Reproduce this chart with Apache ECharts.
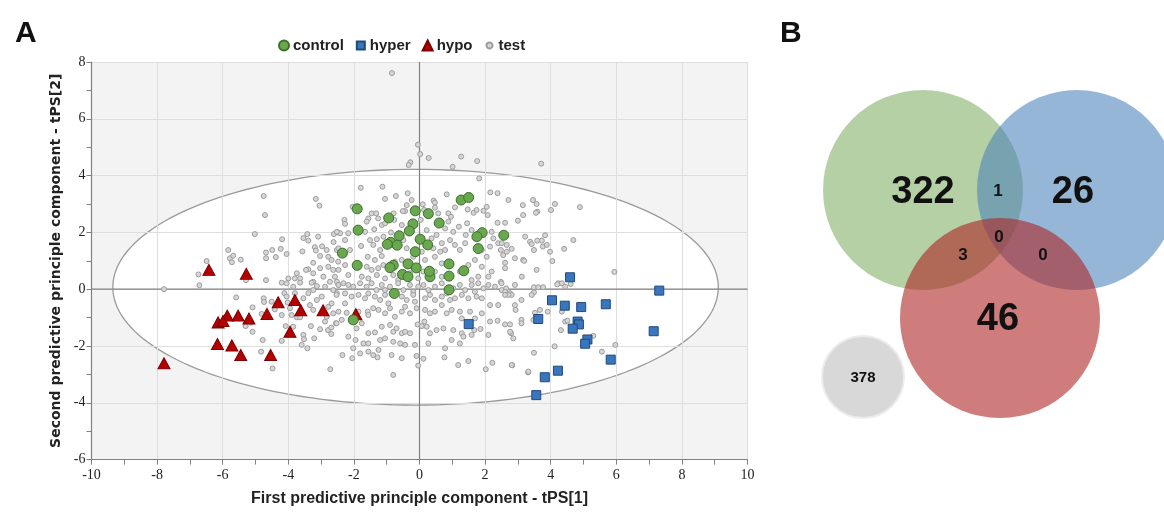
<!DOCTYPE html>
<html>
<head>
<meta charset="utf-8">
<script src="https://cdn.jsdelivr.net/npm/echarts@6/dist/echarts.min.js"></script>
<style>
  html, body { margin: 0; padding: 0; background: #fff; }
  #chart { width: 1164px; height: 512px; }
</style>
</head>
<body>
<div id="chart"></div>
<script>
// score plot values: [tPS1, tPS2]
var controlPts = [
  [-1.90, 2.83], [-0.94, 2.51], [-0.13, 2.76], [0.27, 2.66], [1.27, 3.14], [1.50, 3.23],
  [-1.87, 2.08], [-0.20, 2.30], [0.60, 2.33], [-0.62, 1.88], [-0.31, 2.05], [-0.88, 1.65],
  [-0.98, 1.58], [-0.68, 1.55], [0.02, 1.76], [0.25, 1.56], [1.91, 1.99], [1.75, 1.85],
  [2.57, 1.90], [1.79, 1.43], [-2.35, 1.27], [-0.13, 1.32], [-1.90, 0.84], [-0.80, 0.84],
  [-0.90, 0.76], [-0.35, 0.89], [-0.10, 0.75], [0.90, 0.89], [1.35, 0.65], [-0.52, 0.52],
  [-0.35, 0.44], [0.32, 0.44], [0.30, 0.63], [0.90, 0.46], [0.90, -0.02], [-0.77, -0.15],
  [-2.02, -1.08]
];
var hyperPts = [
  [4.59, 0.42], [7.31, -0.05], [4.04, -0.39], [4.43, -0.58], [4.93, -0.63], [5.68, -0.53],
  [3.62, -1.05], [4.82, -1.14], [4.86, -1.24], [4.67, -1.39], [7.14, -1.48], [5.12, -1.77],
  [5.05, -1.92], [5.83, -2.48], [4.22, -2.87], [3.82, -3.10], [3.56, -3.73], [1.50, -1.23]
];
var hypoPts = [
  [-6.42, 0.68], [-5.28, 0.54], [-4.31, -0.46], [-3.80, -0.38], [-3.62, -0.74], [-2.94, -0.74],
  [-5.86, -0.93], [-5.53, -0.93], [-5.20, -1.03], [-4.65, -0.87], [-6.14, -1.17], [-5.99, -1.12],
  [-3.95, -1.50], [-6.16, -1.93], [-5.72, -1.98], [-5.45, -2.32], [-4.54, -2.32], [-7.79, -2.61],
  [-1.94, -0.88]
];
var testPts = [
  // left wing
  [-4.75, 3.28], [-4.71, 2.61], [-3.16, 3.18], [-3.05, 2.94], [-5.02, 1.94], [-4.19, 1.76],
  [-3.54, 1.80], [-3.42, 1.94], [-3.39, 1.71], [-3.09, 1.85], [-2.61, 1.94], [-2.49, 2.00],
  [-2.62, 1.66], [-5.83, 1.38], [-5.78, 1.09], [-5.72, 0.95], [-5.68, 1.18], [-5.45, 1.04],
  [-6.49, 0.99], [-6.74, 0.52], [-4.68, 1.29], [-4.68, 1.09], [-4.49, 1.38], [-4.38, 1.13],
  [-4.23, 1.42], [-4.05, 1.24], [-4.68, 0.32], [-5.29, 0.32], [-3.57, 1.33], [-3.19, 1.48],
  [-3.16, 1.36], [-2.97, 1.51], [-3.03, 1.17], [-3.24, 0.93], [-2.83, 1.38], [-2.78, 1.14],
  [-2.68, 1.03], [-2.52, 1.38], [-2.48, 0.97], [-3.39, 0.70], [-3.46, 0.68], [-3.24, 0.56],
  [-3.74, 0.56], [-3.80, 0.38], [-3.64, 0.38], [-4.00, 0.38], [-4.20, 0.23], [-3.03, 0.74],
  [-2.93, 0.44], [-2.78, 0.79], [-2.63, 0.68], [-2.58, 0.44], [-3.24, 0.26], [-2.52, 0.26],
  [-6.71, 0.14], [-7.79, 0.00], [-3.85, -1.32], [-2.79, -1.44],
  [-5.59, -0.29], [-5.09, -0.64], [-5.30, -1.30], [-5.09, -1.50], [-5.14, -1.18], [-4.75, -0.32],
  [-4.74, -0.45], [-4.81, -0.87], [-4.51, -0.44], [-4.41, -0.71], [-4.20, -0.91], [-4.78, -1.79],
  [-4.83, -2.20], [-4.48, -2.79], [-4.20, -1.82], [-4.08, -1.30], [-4.12, -0.14], [-4.05, -0.26],
  [-3.95, -0.67], [-3.90, -0.91], [-3.74, -0.99], [-3.64, -0.99], [-3.80, -0.14], [-3.54, -0.32],
  [-3.34, -0.56], [-3.24, -0.73], [-3.31, -1.30], [-3.54, -1.61], [-3.52, -1.76], [-3.59, -1.96],
  [-3.42, -2.08], [-3.21, -1.73], [-3.03, -1.41], [-2.88, -1.14], [-2.69, -1.35], [-2.69, -1.58],
  [-2.55, -1.20], [-2.72, -2.82], [-3.39, -0.14], [-3.13, -0.38], [-3.24, -0.03], [-2.98, -0.26],
  [-2.78, -0.62], [-2.63, -0.85], [-2.68, -0.50], [-2.52, -0.14], [-2.83, -0.97], [-4.02, -0.47],
  [-4.05, 0.21], [-3.85, 0.09], [-3.64, 0.23], [-3.29, 0.23], [-3.13, 0.11], [-2.88, 0.09],
  [-2.63, -0.03], [-2.73, 0.26], [-2.47, 0.15],
  // above the ellipse
  [0.02, 4.76], [0.28, 4.62], [-0.28, 4.47], [-0.33, 4.37], [1.27, 4.67], [1.76, 4.51],
  [1.01, 4.31], [1.82, 3.90], [-0.05, 5.09], [-0.84, 7.61], [3.71, 4.42],
  // upper core
  [-1.79, 3.57], [-1.13, 3.61], [-0.36, 3.38], [-0.72, 3.28], [-1.05, 3.18], [0.43, 3.12],
  [0.47, 3.05], [0.83, 3.34], [2.16, 3.41], [2.38, 3.38], [2.71, 3.14], [3.15, 2.96],
  [3.46, 3.14], [-0.24, 3.14], [-0.39, 2.96], [-0.44, 2.75], [-0.51, 2.75], [0.10, 2.99],
  [0.14, 2.79], [0.47, 2.87], [0.57, 2.67], [0.88, 2.67], [0.96, 2.55], [1.08, 2.88],
  [1.47, 2.81], [1.65, 2.69], [1.74, 2.79], [1.95, 2.76], [2.05, 2.90], [2.08, 2.61],
  [2.38, 2.34], [2.61, 2.34], [3.00, 2.41], [3.16, 2.61], [-1.46, 2.67], [-1.32, 2.67],
  [-1.56, 2.49], [-1.61, 2.38], [-1.26, 2.49], [-0.79, 2.67], [-0.77, 2.44], [-1.15, 2.26],
  [-1.05, 2.32], [-2.29, 2.44], [-2.27, 2.30], [-2.04, 2.90], [-0.54, 2.26], [0.04, 2.44],
  [-0.14, 2.24], [0.88, 2.38], [0.78, 2.14], [1.03, 2.02], [1.20, 2.20], [1.41, 1.91],
  [1.59, 2.08], [1.45, 2.32], [2.20, 2.02], [2.25, 1.79], [2.15, 1.50], [2.40, 1.62],
  [2.66, 1.32], [2.91, 1.09], [3.22, 1.85], [3.37, 1.67], [3.16, 1.03], [2.61, 0.74],
  [3.12, 0.44], [-2.42, 1.97], [-2.52, 2.02], [-2.17, 1.97], [-1.66, 2.02], [-1.38, 2.11],
  [-1.51, 1.73], [-1.41, 1.56], [-1.30, 1.76], [-1.10, 1.85], [-0.87, 2.00], [-1.78, 1.52],
  [-2.27, 1.73], [-2.47, 1.44], [-2.12, 1.38], [-1.58, 1.14], [-1.36, 1.03], [-1.20, 1.38],
  [-1.15, 1.17], [-0.49, 1.73], [-0.39, 1.44], [0.22, 2.08], [0.37, 1.79], [0.52, 1.91],
  [0.68, 1.62], [0.93, 1.73], [1.08, 1.56], [1.23, 1.38], [1.39, 1.62], [0.42, 1.44],
  [0.63, 1.32], [0.78, 1.38], [0.07, 1.32], [-0.19, 1.14], [-0.54, 1.03], [-0.75, 0.97],
  [-0.95, 0.79], [-1.10, 0.85], [-1.26, 0.74], [-1.46, 0.68], [-1.61, 0.79], [-2.27, 0.85],
  [-2.47, 0.68], [-2.17, 0.50], [-1.76, 0.44], [-1.56, 0.38], [-1.30, 0.50], [-1.05, 0.38],
  [-0.80, 0.50], [-0.65, 0.32], [0.17, 1.03], [0.47, 1.14], [0.68, 0.91], [0.47, 0.62],
  [0.68, 0.44], [0.12, 0.62], [-0.04, 0.38], [-0.29, 0.56], [1.23, 0.62], [1.49, 0.85],
  [1.69, 1.03], [1.90, 0.79], [2.10, 0.44], [2.20, 0.62], [1.79, 0.44], [1.59, 0.32],
  [1.90, 1.38], [2.05, 1.14],
  // right side
  [3.57, 3.00], [4.13, 3.00], [3.59, 2.73], [3.55, 2.69], [4.01, 2.79], [4.89, 2.89],
  [3.83, 1.90], [3.59, 1.71], [3.73, 1.71], [3.42, 1.59], [3.49, 1.38], [3.76, 1.50],
  [3.88, 1.56], [3.98, 1.32], [4.41, 1.42], [4.05, 0.99], [5.94, 0.61], [4.23, 0.21],
  [4.34, 0.21], [4.61, 0.18], [3.49, 0.07], [3.62, 0.07], [3.77, 0.07], [3.49, -0.11],
  [4.20, 0.17], [4.44, 0.09], [3.52, -0.83], [3.67, -0.73], [3.91, -0.79], [4.34, -0.79],
  [4.44, -1.14], [4.51, -1.11], [4.31, -1.44], [5.30, -1.64], [5.97, -1.96], [5.56, -2.20],
  [4.12, -2.01], [3.49, -2.24], [2.83, -2.68], [3.31, -2.93], [3.19, 1.00], [2.61, 0.93],
  [2.93, -0.73], [2.79, -1.55], [2.48, 0.26], [2.51, -0.03], [2.64, 0.03], [2.76, -0.14],
  [2.81, -0.20], [2.48, 1.38], [2.66, 1.56], [2.55, 1.20], [2.51, 1.62], [2.81, 1.42],
  [3.57, 0.68], [4.69, 1.73],
  // lower core
  [-2.47, 0.15], [-2.32, 0.21], [-2.17, 0.15], [-2.02, 0.09], [-1.81, 0.21], [-1.61, 0.09],
  [-1.46, 0.21], [-1.31, -0.03], [-1.15, 0.15], [-1.05, -0.03], [-0.90, 0.09], [-0.65, 0.21],
  [-0.49, -0.03], [-0.29, 0.15], [-0.19, -0.09], [-0.04, 0.09], [0.12, 0.15], [0.27, -0.03],
  [0.47, 0.09], [0.68, 0.21], [0.83, -0.15], [1.03, 0.03], [1.23, 0.15], [1.39, -0.03],
  [1.59, 0.15], [1.79, 0.21], [1.95, 0.03], [2.10, 0.15], [2.30, 0.09], [2.50, 0.21],
  [2.61, -0.09], [2.71, -0.20], [2.91, 0.15],
  [-2.53, -0.20], [-2.27, -0.15], [-2.07, -0.26], [-1.86, -0.20], [-1.66, -0.32], [-1.56, -0.15],
  [-1.36, -0.26], [-1.20, -0.38], [-1.05, -0.20], [-0.95, -0.50], [-0.54, -0.26], [-0.39, -0.38],
  [-0.19, -0.20], [-0.14, -0.44], [0.17, -0.32], [0.32, -0.20], [0.47, -0.38], [0.68, -0.26],
  [0.93, -0.38], [1.08, -0.32], [1.29, -0.20], [1.49, -0.32], [1.69, -0.09], [1.74, -0.26],
  [1.90, -0.32], [2.15, -0.56], [2.40, -0.56], [2.61, -0.20], [2.91, -0.56], [3.11, -0.38],
  [3.42, -0.20],
  [-2.27, -0.50], [-2.47, -0.79], [-2.22, -0.83], [-1.86, -0.79], [-1.58, -0.79], [-1.56, -0.91],
  [-1.41, -0.67], [-1.25, -0.73], [-1.05, -0.85], [-0.90, -0.67], [-0.75, -0.97], [-0.54, -0.79],
  [-0.44, -0.62], [-0.29, -0.85], [-0.09, -0.67], [0.17, -0.73], [0.32, -0.85], [0.47, -0.79],
  [0.68, -0.56], [0.83, -0.85], [0.98, -0.73], [1.23, -0.79], [1.29, -1.03], [1.54, -0.79],
  [1.69, -1.03], [1.90, -0.85], [2.15, -1.14], [2.38, -1.11], [2.61, -1.24], [2.76, -1.24],
  [3.11, -1.08], [3.47, -1.08],
  [-2.53, -1.20], [-2.37, -1.08], [-1.92, -1.38], [-1.76, -1.20], [-1.56, -1.55], [-1.36, -1.52],
  [-1.15, -1.32], [-0.90, -1.26], [-0.80, -1.50], [-0.70, -1.38], [-0.54, -1.55], [-0.44, -1.50],
  [-0.29, -1.55], [-0.06, -1.24], [0.07, -1.30], [0.22, -1.32], [0.15, -1.14], [0.32, -1.55],
  [0.52, -1.44], [0.73, -1.38], [1.03, -1.44], [1.29, -1.55], [1.67, -1.44], [1.86, -1.40],
  [2.76, -1.50], [2.86, -1.73], [3.11, -1.20],
  [-2.17, -1.67], [-1.95, -1.79], [-1.71, -1.91], [-1.56, -1.91], [-1.20, -1.79], [-1.05, -1.73],
  [-0.80, -1.85], [-0.59, -1.91], [-0.44, -1.96], [-0.14, -1.96], [0.27, -1.91], [0.98, -1.79],
  [1.23, -1.91], [1.34, -1.67], [1.59, -1.61], [2.10, -1.61],
  [-2.02, -2.08], [-1.81, -2.26], [-1.56, -2.20], [-1.41, -2.32], [-1.25, -2.14], [-1.28, -2.40],
  [-0.85, -2.32], [-0.54, -2.43], [-0.09, -2.35], [0.12, -2.45], [-0.04, -2.69], [0.78, -2.08],
  [0.76, -2.40], [1.18, -2.67], [1.49, -2.53], [2.22, -2.59], [2.81, -2.67], [2.02, -2.82],
  [3.32, -2.90], [-2.35, -2.32], [-2.05, -2.43], [-0.80, -3.02]
];
// confidence ellipse: [centre x, centre y, half width, half height]
var ellipse = [[-0.12, 0.07, 9.23, 4.15]];

// Venn counts
var vennRegions = ['control', 'hyper', 'hypo', 'control+hyper', 'all', 'control+hypo', 'hyper+hypo', 'none'];
var vennCounts = [322, 26, 46, 1, 0, 3, 0, 378];

// Venn layout (units = circle radius), kept apart from the counts
var vennCircles = [[0, 0, 1], [1.54, 0, 1], [0.77, -1.28, 1], [-0.60, -1.87, 0.41]];
var vennCircleColors = ['rgba(132,176,104,0.6)', 'rgba(78,133,186,0.6)', 'rgba(174,36,36,0.6)', '#d8d8d8'];
var vennLabelPos = [[0, -0.03], [1.5, -0.03], [0.75, -1.3], [0.75, -0.01], [0.76, -0.47], [0.40, -0.65], [1.20, -0.65], [-0.60, -1.88]];
var vennLabelSize = [38, 38, 38, 17, 17, 17, 17, 15];

var chart = echarts.init(document.getElementById('chart'));

var axisFont = 'Liberation Serif';
var nameFont = 'Liberation Sans Narrow, Liberation Sans, sans-serif';

function renderEllipse(params, api) {
  var cx = api.value(0), cy = api.value(1), rx = api.value(2), ry = api.value(3);
  var pts = [];
  for (var i = 0; i < 180; i++) {
    var t = i / 180 * Math.PI * 2;
    pts.push(api.coord([cx + rx * Math.cos(t), cy + ry * Math.sin(t)]));
  }
  return {
    type: 'polygon',
    shape: { points: pts },
    style: { fill: '#ffffff', stroke: '#9a9a9a', lineWidth: 1.3 }
  };
}

function renderZeroLines(params, api) {
  var cs = params.coordSys;
  var o = api.coord([0, 0]);
  return {
    type: 'group',
    children: [
      { type: 'line', shape: { x1: o[0], y1: cs.y, x2: o[0], y2: cs.y + cs.height }, style: { stroke: '#808080', lineWidth: 1.2 } },
      { type: 'line', shape: { x1: cs.x, y1: o[1], x2: cs.x + cs.width, y2: o[1] }, style: { stroke: '#808080', lineWidth: 1.2 } }
    ]
  };
}

function renderVennCircle(params, api) {
  var c = api.coord([api.value(0), api.value(1)]);
  var r = api.size([api.value(2), 0])[0];
  var last = params.dataIndex === vennCircles.length - 1;
  return {
    type: 'circle',
    shape: { cx: c[0], cy: c[1], r: r },
    style: {
      fill: vennCircleColors[params.dataIndex],
      stroke: last ? '#ececec' : null,
      lineWidth: last ? 2 : 0
    }
  };
}

function renderVennLabel(params, api) {
  var c = api.coord([api.value(0), api.value(1)]);
  return {
    type: 'text',
    x: c[0],
    y: c[1],
    style: {
      text: String(vennCounts[params.dataIndex]),
      fontSize: vennLabelSize[params.dataIndex],
      fontWeight: 'bold',
      fontFamily: 'Liberation Sans',
      fill: '#111',
      align: 'center',
      verticalAlign: 'middle'
    }
  };
}

var option = {
  animation: false,
  backgroundColor: '#ffffff',
  title: [
    { text: 'A', left: 10, top: 14, textStyle: { fontSize: 30, fontWeight: 'bold', fontFamily: 'Liberation Sans', color: '#111' } },
    { text: 'B', left: 775, top: 14, textStyle: { fontSize: 30, fontWeight: 'bold', fontFamily: 'Liberation Sans', color: '#111' } }
  ],
  legend: {
    data: [
      { name: 'control' },
      { name: 'hyper', icon: 'path://M0,0M10,10M1,1L9,1L9,9L1,9Z' },
      { name: 'hypo' },
      { name: 'test', icon: 'path://M0,0M10,10M5,2A3,3 0 1,1 4.99,2Z' }
    ],
    left: 273,
    top: 33,
    itemWidth: 10,
    itemHeight: 10,
    itemGap: 11,
    textStyle: { fontSize: 15, fontWeight: 'bold', fontFamily: nameFont, color: '#222', padding: [0, 0, 0, -1] }
  },
  grid: [
    { left: 91.5, right: 416.5, top: 62, bottom: 52.4, show: true, backgroundColor: '#f3f3f3', borderWidth: 0 },
    { left: 780, top: 0, width: 384, height: 512 }
  ],
  xAxis: [
    {
      type: 'value', gridIndex: 0, min: -10, max: 10, interval: 2, z: 0.8,
      name: 'First predictive principle component - tPS[1]',
      nameLocation: 'middle', nameGap: 31,
      nameTextStyle: { fontSize: 16, fontWeight: 'bold', fontFamily: nameFont, color: '#222' },
      axisLine: { onZero: false, lineStyle: { color: '#808080', width: 1.2 } },
      axisTick: { length: 5, lineStyle: { color: '#808080' } },
      minorTick: { show: true, splitNumber: 2, length: 5, lineStyle: { color: '#808080' } },
      splitLine: { show: true, lineStyle: { color: '#dedede' } },
      axisLabel: { fontFamily: axisFont, fontSize: 14, color: '#222', margin: 9 }
    },
    { type: 'value', gridIndex: 1, min: -1.43, max: 2.41, show: false }
  ],
  yAxis: [
    {
      type: 'value', gridIndex: 0, min: -6, max: 8, interval: 2, z: 0.8,
      name: 'Second predictive principle component - tPS[2]',
      nameLocation: 'middle', nameGap: 21,
      nameTextStyle: { fontSize: 14, fontWeight: 'bold', fontFamily: 'DejaVu Sans', color: '#222' },
      axisLine: { onZero: false, lineStyle: { color: '#808080', width: 1.2 } },
      axisTick: { length: 5, lineStyle: { color: '#808080' } },
      minorTick: { show: true, splitNumber: 2, length: 5, lineStyle: { color: '#808080' } },
      splitLine: { show: true, lineStyle: { color: '#dedede' } },
      axisLabel: { fontFamily: axisFont, fontSize: 14, color: '#222', margin: 6 }
    },
    { type: 'value', gridIndex: 1, min: -3.22, max: 1.90, show: false }
  ],
  series: [
    {
      type: 'custom', name: 'ellipse', xAxisIndex: 0, yAxisIndex: 0, z: 0.5, silent: true,
      renderItem: renderEllipse, data: ellipse, clip: true
    },
    {
      type: 'custom', name: 'zero', xAxisIndex: 0, yAxisIndex: 0, z: 1.2, silent: true,
      renderItem: renderZeroLines, data: [[0, 0]]
    },
    {
      type: 'scatter', name: 'test', xAxisIndex: 0, yAxisIndex: 0, z: 2,
      symbol: 'circle', symbolSize: 5,
      itemStyle: { color: '#d6d6d6', borderColor: '#9c9c9c', borderWidth: 1, opacity: 1 },
      data: testPts
    },
    {
      type: 'scatter', name: 'hypo', xAxisIndex: 0, yAxisIndex: 0, z: 3,
      symbol: 'triangle', symbolSize: [12, 11],
      itemStyle: { color: '#b40000', borderColor: '#7a0000', borderWidth: 1, opacity: 1 },
      data: hypoPts
    },
    {
      type: 'scatter', name: 'hyper', xAxisIndex: 0, yAxisIndex: 0, z: 3,
      symbol: 'rect', symbolSize: 9,
      itemStyle: { color: '#3a76bd', borderColor: '#1f4a7a', borderWidth: 1, opacity: 1 },
      data: hyperPts
    },
    {
      type: 'scatter', name: 'control', xAxisIndex: 0, yAxisIndex: 0, z: 3,
      symbol: 'circle', symbolSize: 10,
      itemStyle: { color: '#6aa84f', borderColor: '#3e6e2c', borderWidth: 1, opacity: 1 },
      data: controlPts
    },
    {
      type: 'custom', name: 'venn', xAxisIndex: 1, yAxisIndex: 1, silent: true,
      renderItem: renderVennCircle, data: vennCircles, clip: false
    },
    {
      type: 'custom', name: 'vennLabels', xAxisIndex: 1, yAxisIndex: 1, silent: true, z: 4,
      renderItem: renderVennLabel, data: vennLabelPos, clip: false
    }
  ]
};

chart.setOption(option);
</script>
</body>
</html>
